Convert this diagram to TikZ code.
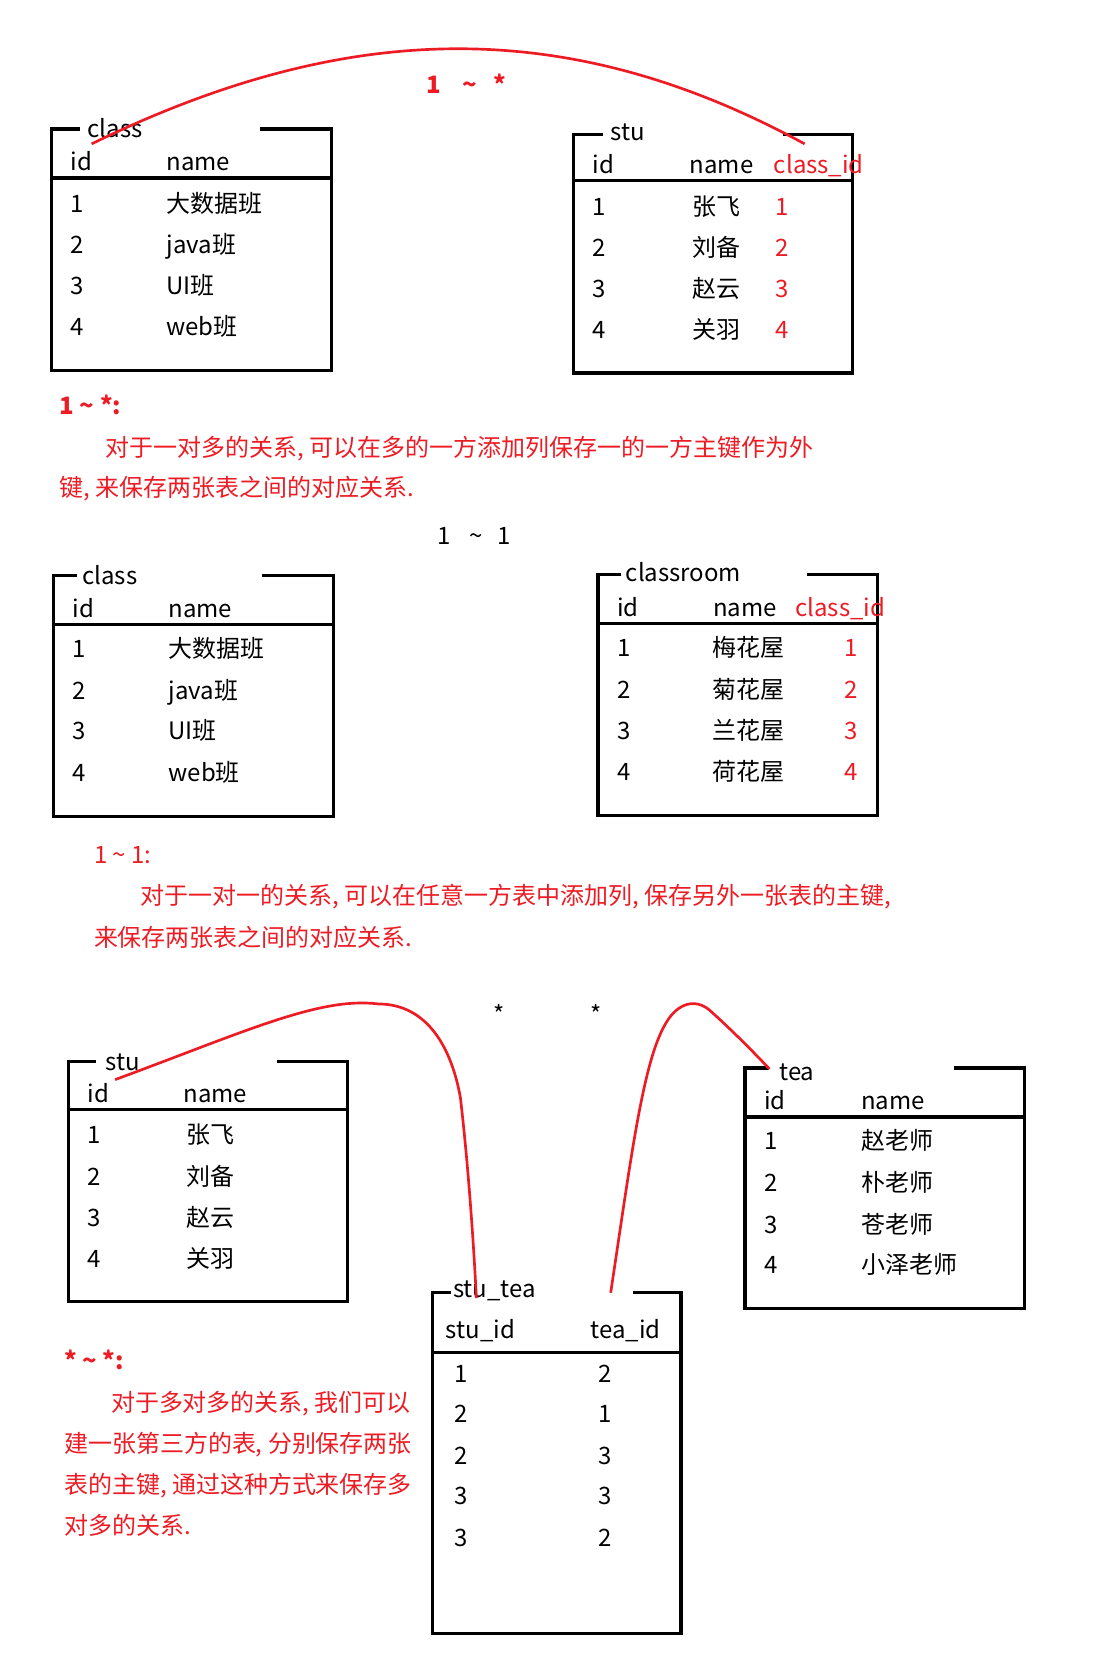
\documentclass[tikz,border=0pt]{standalone}
\usepackage{fontspec}
\setmainfont{Noto Sans CJK SC}
\definecolor{rd}{RGB}{237,28,36}
\tikzset{
  tbl/.style={line width=3pt},
  cell/.style={anchor=base west, inner sep=0pt, font=\fontsize{22.5}{26}\selectfont},
  rcell/.style={cell, text=rd},
  rbold/.style={cell, text=rd, font=\fontsize{22.5}{26}\selectfont\bfseries},
  rel/.style={draw=rd, line width=2.5pt},
}
\newcommand\tablebox[7]{%
  \draw[tbl] (#5,#2) -- (#1,#2) -- (#1,#4) -- (#3,#4) -- (#3,#2) -- (#6,#2);
  \draw[tbl] (#1,#7) -- (#3,#7);}
\begin{document}
\begin{tikzpicture}[x=1pt,y=-1pt]
\useasboundingbox (0,0) rectangle (1033,1566);
\fill[white] (0,0) rectangle (1033,1566);

% ---------- section 1 ----------
\tablebox{48}{121}{311}{348}{75}{244}{167}
\node[cell] (c1t) at (82,129) {class};
\node[cell] (c1hid) at (66,160) {id};
\node[cell] (c1hn) at (156,160) {name};
\node[cell] (c1r1a) at (66,199) {1};
\node[cell] (c1r1b) at (156,199) {大数据班};
\node[cell] (c1r2a) at (66,238) {2};
\node[cell] (c1r2b) at (156,238) {java班};
\node[cell] (c1r3a) at (66,276) {3};
\node[cell] (c1r3b) at (156,276) {UI班};
\node[cell] (c1r4a) at (66,315) {4};
\node[cell] (c1r4b) at (156,315) {web班};

\tablebox{538}{126}{800}{350}{566}{735}{169}
\node[cell] (s1t) at (573,132) {stu};
\node[cell] (s1hid) at (556,163) {id};
\node[cell] (s1hn) at (647,163) {name};
\node[rcell] (s1hc) at (726,163) {class\_id};
\node[cell] (s1r1a) at (556,202) {1};
\node[cell] (s1r1b) at (650,202) {张飞};
\node[rcell] (s1r1c) at (727,202) {1};
\node[cell] (s1r2a) at (556,241) {2};
\node[cell] (s1r2b) at (650,241) {刘备};
\node[rcell] (s1r2c) at (727,241) {2};
\node[cell] (s1r3a) at (556,279) {3};
\node[cell] (s1r3b) at (650,279) {赵云};
\node[rcell] (s1r3c) at (727,279) {3};
\node[cell] (s1r4a) at (556,318) {4};
\node[cell] (s1r4b) at (650,318) {关羽};
\node[rcell] (s1r4c) at (727,318) {4};

\coordinate (a1) at (86,135);
\coordinate (b1) at (755,135);
\draw[rel] (a1) .. controls (330,16) and (536,16) .. (b1);
\node[rbold] (lab1) at (400,88) {1\hspace{20pt}\textasciitilde\hspace{15pt}*};

\node[rbold] (t1h) at (56,389) {1 \textasciitilde\ *:};
\node[rcell] (t1a) at (99,428) {对于一对多的关系, 可以在多的一方添加列保存一的一方主键作为外};
\node[rcell] (t1b) at (56,466) {键, 来保存两张表之间的对应关系.};

% ---------- section 2 ----------
\node[cell] (lab2) at (410,511) {1\hspace{18pt}\textasciitilde\hspace{14pt}1};

\tablebox{50}{540}{313}{766}{72}{246}{586}
\node[cell] (c2t) at (77,548) {class};
\node[cell] (c2hid) at (68,579) {id};
\node[cell] (c2hn) at (158,579) {name};
\node[cell] (c2r1a) at (68,617) {1};
\node[cell] (c2r1b) at (158,617) {大数据班};
\node[cell] (c2r2a) at (68,656) {2};
\node[cell] (c2r2b) at (158,656) {java班};
\node[cell] (c2r3a) at (68,694) {3};
\node[cell] (c2r3b) at (158,694) {UI班};
\node[cell] (c2r4a) at (68,733) {4};
\node[cell] (c2r4b) at (158,733) {web班};

\tablebox{561}{539}{823}{765}{583}{757}{585}
\node[cell] (crt) at (587,546) {classroom};
\node[cell] (crhid) at (579,578) {id};
\node[cell] (crhn) at (669,578) {name};
\node[rcell] (crhc) at (746,578) {class\_id};
\node[cell] (crr1a) at (579,616) {1};
\node[cell] (crr1b) at (668,616) {梅花屋};
\node[rcell] (crr1c) at (792,616) {1};
\node[cell] (crr2a) at (579,655) {2};
\node[cell] (crr2b) at (668,655) {菊花屋};
\node[rcell] (crr2c) at (792,655) {2};
\node[cell] (crr3a) at (579,694) {3};
\node[cell] (crr3b) at (668,694) {兰花屋};
\node[rcell] (crr3c) at (792,694) {3};
\node[cell] (crr4a) at (579,732) {4};
\node[cell] (crr4b) at (668,732) {荷花屋};
\node[rcell] (crr4c) at (792,732) {4};

\node[rcell] (t2h) at (88,810) {1 \textasciitilde\ 1:};
\node[rcell] (t2a) at (132,849) {对于一对一的关系, 可以在任意一方表中添加列, 保存另外一张表的主键,};
\node[rcell] (t2b) at (88,888) {来保存两张表之间的对应关系.};

% ---------- section 3 ----------
\node[cell] (st1) at (463,960) {*};
\node[cell] (st2) at (554,960) {*};

\tablebox{64}{996}{326}{1221}{90}{260}{1041}
\node[cell] (s3t) at (99,1004) {stu};
\node[cell] (s3hid) at (82,1034) {id};
\node[cell] (s3hn) at (172,1034) {name};
\node[cell] (s3r1a) at (82,1073) {1};
\node[cell] (s3r1b) at (175,1073) {张飞};
\node[cell] (s3r2a) at (82,1112) {2};
\node[cell] (s3r2b) at (175,1112) {刘备};
\node[cell] (s3r3a) at (82,1151) {3};
\node[cell] (s3r3b) at (175,1151) {赵云};
\node[cell] (s3r4a) at (82,1189) {4};
\node[cell] (s3r4b) at (175,1189) {关羽};

\tablebox{699}{1002}{961}{1228}{722}{895}{1048}
\node[cell] (tt) at (731,1014) {tea};
\node[cell] (thid) at (717,1041) {id};
\node[cell] (thn) at (808,1041) {name};
\node[cell] (tr1a) at (717,1079) {1};
\node[cell] (tr1b) at (808,1079) {赵老师};
\node[cell] (tr2a) at (717,1118) {2};
\node[cell] (tr2b) at (808,1118) {朴老师};
\node[cell] (tr3a) at (717,1157) {3};
\node[cell] (tr3b) at (808,1157) {苍老师};
\node[cell] (tr4a) at (717,1195) {4};
\node[cell] (tr4b) at (808,1195) {小泽老师};

\tablebox{406}{1213}{639}{1533}{423}{594}{1269}
\node[cell] (stt) at (425,1217) {stu\_tea};
\node[cell] (sth1) at (418,1256) {stu\_id};
\node[cell] (sth2) at (554,1256) {tea\_id};
\node[cell] (str1a) at (426,1297) {1};
\node[cell] (str1b) at (561,1297) {2};
\node[cell] (str2a) at (426,1335) {2};
\node[cell] (str2b) at (561,1335) {1};
\node[cell] (str3a) at (426,1374) {2};
\node[cell] (str3b) at (561,1374) {3};
\node[cell] (str4a) at (426,1412) {3};
\node[cell] (str4b) at (561,1412) {3};
\node[cell] (str5a) at (426,1451) {3};
\node[cell] (str5b) at (561,1451) {2};

\coordinate (a3) at (108,1013);
\coordinate (b3) at (447,1218);
\draw[rel] (a3) .. controls (230,968) and (300,935) .. (355,942)
  .. controls (402,942) and (424,985) .. (432,1030)
  .. controls (439,1090) and (444,1160) .. (b3);
\coordinate (a4) at (573,1213);
\coordinate (b4) at (722,1003);
\draw[rel] (a4) .. controls (593,1080) and (604,992) .. (626,958)
  .. controls (636,942) and (652,936) .. (666,948)
  .. controls (685,965) and (705,985) .. (b4);

\node[rbold] (t3h) at (60,1285) {* \textasciitilde\ *:};
\node[rcell] (t3a) at (104,1324) {对于多对多的关系, 我们可以};
\node[rcell] (t3b) at (60,1363) {建一张第三方的表, 分别保存两张};
\node[rcell] (t3c) at (60,1401) {表的主键, 通过这种方式来保存多};
\node[rcell] (t3d) at (60,1440) {对多的关系.};
\end{tikzpicture}
\end{document}
